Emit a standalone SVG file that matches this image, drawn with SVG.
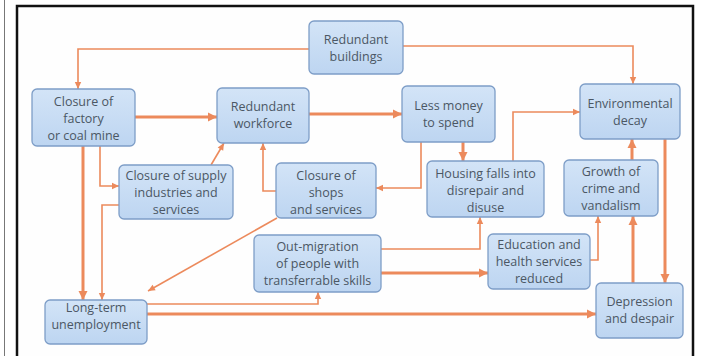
<svg xmlns="http://www.w3.org/2000/svg" width="704" height="356" viewBox="0 0 704 356">
<defs>
<linearGradient id="bx" x1="0" y1="0" x2="0" y2="1">
<stop offset="0" stop-color="#d3e4f7"/>
<stop offset="1" stop-color="#bdd5f1"/>
</linearGradient>
<marker id="ah" markerUnits="userSpaceOnUse" markerWidth="12" markerHeight="12" viewBox="0 0 12 12" refX="10" refY="6" orient="auto">
<path d="M1,1.5 L10,6 L1,10.5 Z" fill="#ec8a5c"/>
</marker>
<marker id="as" markerUnits="userSpaceOnUse" markerWidth="10" markerHeight="10" viewBox="0 0 10 10" refX="8" refY="5" orient="auto">
<path d="M1,1.8 L8,5 L1,8.2 Z" fill="#ec8a5c"/>
</marker>
</defs>
<style>
.box{fill:url(#bx);stroke:#7d9dc7;stroke-width:1.3}
.t{font-family:"Open Sans","Noto Sans",sans-serif;font-size:12.5px;fill:#4b5764;text-anchor:middle}
.thick{fill:none;stroke:#ec8a5c;stroke-width:3;marker-end:url(#ah)}
.thin{fill:none;stroke:#ec8a5c;stroke-width:1.6;marker-end:url(#as)}
</style>
<rect x="0" y="0" width="704" height="356" fill="#ffffff"/>
<line x1="4.5" y1="0" x2="4.5" y2="356" stroke="#777" stroke-width="1"/>
<rect x="17" y="6" width="676" height="370" fill="#fefefe" stroke="#111" stroke-width="2.5"/>

<g id="connectors">
<path class="thin" d="M309,49 H78 V89"/>
<path class="thin" d="M403,46 H633 V84"/>
<path class="thick" d="M135,117 H217"/>
<path class="thick" d="M309,114 H402"/>
<path class="thick" d="M463,142 V161"/>
<path class="thin" d="M421,142 V188 H376"/>
<path class="thin" d="M513,161 V112 H580"/>
<path class="thick" d="M632,160 V139"/>
<path class="thick" d="M665,139 V283"/>
<path class="thick" d="M633,283 V216"/>
<path class="thin" d="M590,260 H598 V216"/>
<path class="thin" d="M381,249 H480 V217"/>
<path class="thick" d="M381,273 H488"/>
<path class="thin" d="M147,304 H318 V292"/>
<path class="thick" d="M147,314 H596"/>
<path class="thick" d="M83,146 V300"/>
<path class="thin" d="M100,146 V186 H119"/>
<path class="thin" d="M119,205 H102 V300"/>
<path class="thin" d="M211,165 L224,143"/>
<path class="thin" d="M276,191 H263 V143"/>
<path class="thin" d="M277,218 L148,291"/>
</g>

<g id="redundant-buildings">
<rect class="box" x="309" y="21" width="94" height="53" rx="5"/>
<text class="t" x="356" y="44">Redundant</text>
<text class="t" x="356" y="61">buildings</text>
</g>
<g id="closure-factory">
<rect class="box" x="32" y="89" width="103" height="57" rx="5"/>
<text class="t" x="83.5" y="106">Closure of</text>
<text class="t" x="83.5" y="123">factory</text>
<text class="t" x="83.5" y="140">or coal mine</text>
</g>
<g id="redundant-workforce">
<rect class="box" x="217" y="88" width="92" height="55" rx="5"/>
<text class="t" x="263" y="111">Redundant</text>
<text class="t" x="263" y="128">workforce</text>
</g>
<g id="less-money">
<rect class="box" x="402" y="86" width="93" height="56" rx="5"/>
<text class="t" x="448.5" y="109.5">Less money</text>
<text class="t" x="448.5" y="126.5">to spend</text>
</g>
<g id="environmental-decay">
<rect class="box" x="580" y="84" width="100" height="55" rx="5"/>
<text class="t" x="630" y="108">Environmental</text>
<text class="t" x="630" y="125">decay</text>
</g>
<g id="closure-supply">
<rect class="box" x="119" y="165" width="114" height="54" rx="5"/>
<text class="t" x="176" y="179.5">Closure of supply</text>
<text class="t" x="176" y="196.5">industries and</text>
<text class="t" x="176" y="213.5">services</text>
</g>
<g id="closure-shops">
<rect class="box" x="276" y="163" width="100" height="55" rx="5"/>
<text class="t" x="326" y="179.5">Closure of</text>
<text class="t" x="326" y="196.5">shops</text>
<text class="t" x="326" y="213.5">and services</text>
</g>
<g id="housing-falls">
<rect class="box" x="427" y="161" width="117" height="56" rx="5"/>
<text class="t" x="485.5" y="177.5">Housing falls into</text>
<text class="t" x="485.5" y="194.5">disrepair and</text>
<text class="t" x="485.5" y="211.5">disuse</text>
</g>
<g id="growth-crime">
<rect class="box" x="564" y="160" width="94" height="56" rx="5"/>
<text class="t" x="611" y="175.5">Growth of</text>
<text class="t" x="611" y="192.5">crime and</text>
<text class="t" x="611" y="209.5">vandalism</text>
</g>
<g id="out-migration">
<rect class="box" x="254" y="235" width="127" height="57" rx="5"/>
<text class="t" x="317.5" y="250.5">Out-migration</text>
<text class="t" x="317.5" y="267.5">of people with</text>
<text class="t" x="317.5" y="284.5">transferrable skills</text>
</g>
<g id="education-health">
<rect class="box" x="488" y="234" width="102" height="55" rx="5"/>
<text class="t" x="539" y="249">Education and</text>
<text class="t" x="539" y="266">health services</text>
<text class="t" x="539" y="283">reduced</text>
</g>
<g id="depression">
<rect class="box" x="596" y="283" width="87" height="55" rx="5"/>
<text class="t" x="639.5" y="306">Depression</text>
<text class="t" x="639.5" y="323">and despair</text>
</g>
<g id="long-term-unemployment">
<rect class="box" x="45" y="300" width="102" height="44" rx="5"/>
<text class="t" x="96" y="312">Long-term</text>
<text class="t" x="96" y="329">unemployment</text>
</g>
</svg>
